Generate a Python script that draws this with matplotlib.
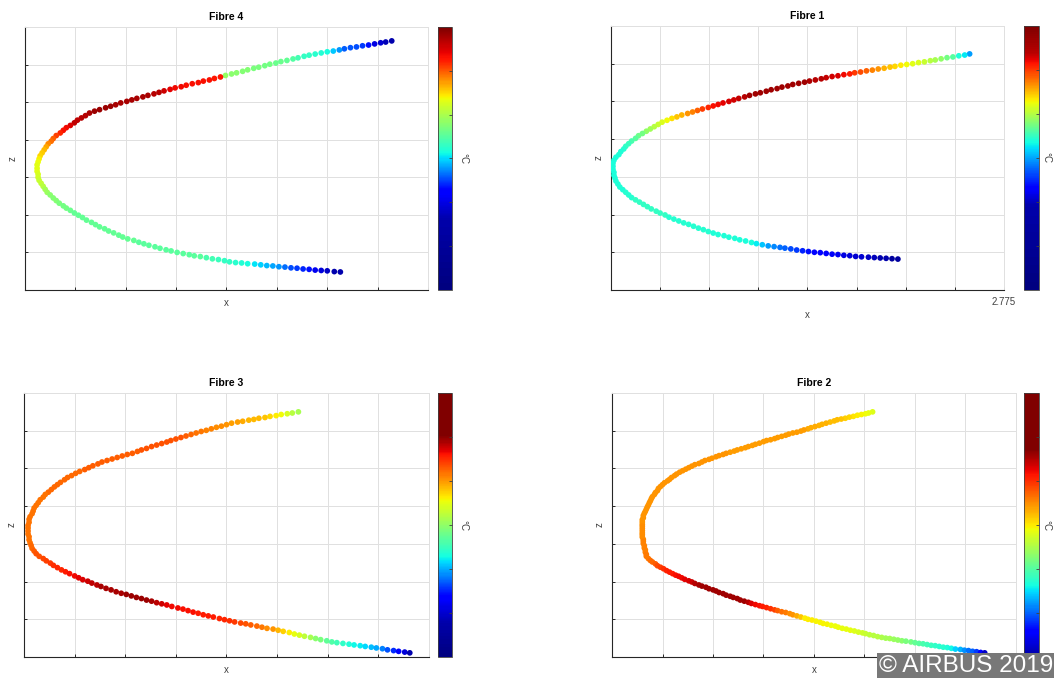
import numpy as np
import matplotlib
matplotlib.use("Agg")
import matplotlib.pyplot as plt
from matplotlib.colors import ListedColormap

plt.rcParams['font.family'] = ['Liberation Sans', 'DejaVu Sans']

# sensor positions along each fibre (x, z in mm) and relative temperature (0-100 of colour scale)
# order: upper end -> leading edge -> lower end
fibre4_x = [2739, 2733, 2728, 2722, 2716, 2710, 2704, 2698, 2692, 2687, 2681, 2675, 2669, 2663, 2657, 2652, 2646, 2641, 2635, 2629, 2624, 2618, 2613, 2607, 2602, 2596, 2591,
            2585, 2580, 2574, 2569, 2563, 2558, 2552, 2547, 2541, 2535, 2530, 2524, 2519, 2513, 2508, 2503, 2497, 2492, 2486, 2481, 2476, 2470, 2465, 2460, 2455, 2449, 2444,
            2439, 2435, 2431, 2427, 2424, 2420, 2416, 2413, 2410, 2406, 2403, 2401, 2398, 2396, 2394, 2392, 2390, 2389, 2388, 2387, 2387, 2387, 2388, 2388, 2389, 2391, 2393,
            2395, 2397, 2400, 2403, 2406, 2409, 2413, 2416, 2420, 2424, 2428, 2432, 2436, 2441, 2445, 2449, 2454, 2458, 2463, 2468, 2472, 2477, 2483, 2488, 2493, 2498, 2504,
            2509, 2515, 2520, 2526, 2532, 2538, 2543, 2549, 2555, 2561, 2567, 2573, 2578, 2584, 2590, 2596, 2603, 2609, 2615, 2621, 2627, 2633, 2639, 2645, 2651, 2657, 2663,
            2669, 2675, 2682, 2688]
fibre4_z = [363, 360, 358, 355, 352, 350, 347, 345, 342, 339, 336, 334, 331, 328, 325, 322, 318, 315, 311, 308, 304, 301, 297, 293, 290, 286, 282,
            278, 275, 271, 267, 263, 259, 256, 252, 249, 245, 241, 238, 234, 230, 226, 222, 218, 214, 210, 206, 202, 198, 193, 189, 185, 180, 176,
            171, 164, 158, 152, 145, 138, 132, 125, 118, 111, 103, 96, 89, 81, 73, 65, 57, 49, 41, 33, 24, 16, 8, 0, -8, -16, -24,
            -32, -40, -47, -55, -62, -69, -76, -82, -88, -95, -101, -107, -114, -120, -126, -132, -137, -143, -148, -154, -159, -164, -168, -173, -177, -181, -185,
            -189, -193, -196, -200, -203, -206, -209, -211, -214, -217, -219, -222, -225, -227, -228, -230, -231, -233, -235, -236, -238, -239, -241, -242, -244, -245, -247,
            -248, -249, -251, -252]
fibre4_t = [4, 5, 7, 9, 14, 18, 20, 21, 22, 27, 32, 38, 39, 40, 41, 41, 43, 45, 47, 48, 48, 49, 49, 50, 50, 51, 51,
            52, 52, 53, 88, 88, 89, 89, 89, 89, 89, 90, 90, 91, 93, 95, 95, 96, 96, 96, 96, 96, 96, 96, 97, 97, 97, 97,
            96, 95, 95, 94, 94, 92, 90, 89, 87, 84, 81, 79, 76, 73, 71, 69, 68, 65, 63, 62, 62, 62, 61, 60, 59, 58, 57,
            55, 54, 52, 51, 51, 50, 49, 49, 48, 47, 47, 47, 47, 47, 47, 47, 47, 47, 47, 47, 47, 47, 47, 46, 46, 46, 46,
            46, 46, 46, 46, 46, 46, 46, 46, 44, 43, 42, 41, 41, 40, 39, 38, 35, 33, 31, 29, 27, 23, 20, 18, 16, 14, 10,
            8, 6, 4, 4]

fibre1_x = [2740, 2735, 2729, 2723, 2717, 2711, 2705, 2700, 2694, 2688, 2682, 2676, 2670, 2664, 2659, 2653, 2647, 2641, 2635, 2629, 2623, 2618, 2612, 2606, 2600, 2594, 2589,
            2583, 2577, 2572, 2566, 2560, 2555, 2549, 2544, 2538, 2533, 2527, 2522, 2516, 2511, 2505, 2500, 2495, 2489, 2484, 2479, 2474, 2468, 2463, 2458, 2453, 2447, 2442,
            2437, 2432, 2427, 2423, 2419, 2415, 2411, 2407, 2403, 2400, 2396, 2393, 2390, 2388, 2385, 2383, 2380, 2378, 2377, 2377, 2377, 2378, 2378, 2379, 2380, 2382, 2384,
            2387, 2390, 2393, 2396, 2400, 2404, 2408, 2412, 2416, 2421, 2425, 2430, 2434, 2439, 2444, 2449, 2454, 2459, 2464, 2469, 2474, 2479, 2484, 2490, 2495, 2501, 2506,
            2512, 2518, 2523, 2529, 2535, 2541, 2547, 2552, 2558, 2564, 2570, 2576, 2582, 2588, 2594, 2600, 2606, 2612, 2618, 2624, 2630, 2637, 2643, 2649, 2655, 2661, 2667]
fibre1_z = [326, 323, 321, 318, 316, 313, 310, 308, 305, 303, 300, 298, 296, 293, 291, 288, 286, 283, 281, 278, 276, 273, 271, 268, 266, 263, 260,
            257, 254, 251, 248, 245, 241, 238, 234, 231, 227, 223, 220, 216, 212, 208, 204, 200, 196, 192, 188, 184, 180, 176, 172, 168, 164, 159,
            155, 150, 145, 139, 133, 127, 121, 115, 109, 102, 95, 88, 81, 74, 67, 59, 52, 44, 36, 28, 20, 12, 4, -3, -11, -19, -27,
            -34, -41, -48, -55, -61, -67, -73, -79, -85, -91, -96, -101, -107, -112, -117, -122, -126, -131, -136, -140, -145, -149, -153, -156, -160, -163, -167,
            -170, -174, -177, -180, -183, -185, -187, -189, -191, -194, -196, -198, -200, -201, -203, -205, -206, -208, -209, -211, -212, -213, -214, -215, -216, -217, -218]
fibre1_t = [28, 35, 39, 45, 49, 52, 55, 57, 59, 61, 62, 64, 66, 68, 70, 72, 75, 77, 80, 83, 85, 88, 90, 92, 93, 94, 95,
            95, 96, 97, 97, 97, 97, 97, 97, 97, 97, 97, 97, 97, 95, 94, 93, 92, 91, 90, 89, 87, 84, 80, 77, 75, 72, 70,
            67, 64, 61, 59, 57, 54, 52, 49, 48, 46, 44, 42, 41, 40, 39, 39, 38, 38, 38, 38, 38, 38, 38, 38, 39, 39, 39,
            39, 40, 40, 40, 41, 41, 41, 41, 41, 41, 41, 41, 40, 40, 40, 40, 40, 40, 40, 40, 40, 39, 39, 39, 39, 39, 38,
            38, 38, 36, 32, 28, 26, 24, 22, 20, 18, 16, 14, 13, 12, 12, 11, 10, 9, 8, 7, 7, 6, 5, 4, 4, 3, 3]

fibre3_x = [2646, 2640, 2635, 2629, 2624, 2618, 2613, 2607, 2602, 2597, 2591, 2586, 2580, 2575, 2570, 2565, 2560, 2555, 2550, 2545, 2540, 2535, 2530, 2525, 2520,
            2516, 2511, 2506, 2501, 2496, 2491, 2487, 2482, 2477, 2472, 2467, 2462, 2457, 2452, 2448, 2443, 2439, 2435, 2430, 2426, 2422, 2418, 2415, 2411, 2408,
            2405, 2402, 2399, 2396, 2394, 2391, 2389, 2387, 2385, 2384, 2383, 2381, 2380, 2380, 2379, 2379, 2379, 2379, 2380, 2380, 2381, 2382, 2383, 2385, 2387,
            2390, 2394, 2397, 2401, 2404, 2408, 2412, 2416, 2420, 2425, 2429, 2433, 2438, 2442, 2447, 2451, 2456, 2461, 2466, 2471, 2476, 2481, 2486, 2491, 2496,
            2501, 2506, 2511, 2516, 2521, 2527, 2532, 2537, 2542, 2547, 2552, 2557, 2562, 2568, 2573, 2578, 2583, 2589, 2594, 2599, 2605, 2610, 2615, 2621, 2626,
            2631, 2637, 2642, 2647, 2652, 2658, 2663, 2668, 2674, 2679, 2684, 2690, 2696, 2701, 2707, 2712, 2718, 2723, 2729, 2734, 2740, 2745, 2751, 2756]
fibre3_z = [350, 347, 345, 343, 340, 338, 335, 333, 330, 328, 325, 323, 320, 316, 312, 309, 305, 301, 298, 294, 290, 286, 282, 278, 274,
            270, 266, 262, 258, 253, 249, 245, 240, 237, 233, 229, 225, 221, 217, 212, 207, 202, 197, 192, 187, 181, 176, 170, 163, 157,
            151, 144, 137, 131, 124, 117, 109, 102, 95, 87, 80, 72, 65, 57, 49, 42, 34, 26, 19, 11, 3, -4, -12, -19, -26,
            -33, -39, -45, -51, -57, -63, -69, -74, -79, -85, -90, -95, -99, -104, -109, -113, -118, -122, -127, -131, -134, -138, -142, -145, -149,
            -152, -156, -159, -162, -166, -170, -173, -177, -181, -184, -188, -191, -194, -198, -201, -204, -207, -210, -212, -215, -218, -221, -224, -226, -229,
            -232, -235, -239, -242, -245, -248, -251, -254, -257, -260, -262, -264, -266, -268, -270, -272, -274, -276, -278, -281, -283, -285, -287, -289]
fibre3_t = [55, 57, 61, 64, 66, 68, 70, 71, 71, 72, 73, 74, 74, 75, 76, 76, 77, 77, 78, 79, 80, 81, 82, 82, 82,
            82, 82, 82, 82, 82, 82, 81, 81, 81, 81, 81, 81, 81, 81, 81, 81, 81, 81, 80, 80, 80, 80, 80, 80, 80,
            80, 80, 80, 79, 79, 79, 79, 79, 79, 79, 79, 79, 79, 79, 79, 79, 79, 79, 79, 79, 79, 80, 80, 81, 82,
            82, 83, 84, 85, 86, 87, 87, 88, 89, 90, 91, 92, 93, 94, 95, 96, 96, 96, 96, 96, 97, 97, 97, 97, 97,
            96, 95, 93, 91, 90, 90, 89, 89, 89, 88, 88, 88, 88, 87, 87, 86, 85, 83, 82, 81, 80, 78, 76, 75, 72,
            69, 66, 63, 61, 58, 55, 52, 50, 47, 45, 43, 41, 39, 37, 36, 34, 31, 29, 25, 21, 17, 13, 8, 4]

fibre2_x = [2633, 2629, 2626, 2622, 2618, 2614, 2610, 2606, 2602, 2598, 2595, 2591, 2587, 2583, 2580, 2576, 2572, 2569, 2565, 2562, 2558, 2554, 2550, 2547, 2543,
            2539, 2536, 2532, 2528, 2525, 2521, 2517, 2514, 2510, 2507, 2503, 2499, 2496, 2492, 2488, 2485, 2481, 2478, 2474, 2471, 2467, 2464, 2461, 2457, 2454,
            2451, 2448, 2445, 2442, 2439, 2437, 2434, 2432, 2430, 2427, 2425, 2423, 2421, 2420, 2418, 2417, 2415, 2414, 2413, 2412, 2411, 2410, 2409, 2408, 2407,
            2406, 2406, 2405, 2405, 2405, 2405, 2405, 2405, 2405, 2405, 2405, 2406, 2406, 2406, 2407, 2407, 2408, 2408, 2409, 2409, 2411, 2413, 2415, 2418, 2420,
            2423, 2426, 2429, 2432, 2435, 2438, 2441, 2444, 2447, 2451, 2454, 2457, 2461, 2464, 2468, 2471, 2475, 2478, 2481, 2485, 2488, 2492, 2495, 2499, 2502,
            2506, 2510, 2513, 2517, 2521, 2524, 2528, 2532, 2536, 2539, 2543, 2547, 2551, 2554, 2558, 2562, 2566, 2569, 2573, 2577, 2581, 2584, 2588, 2592, 2596,
            2599, 2603, 2607, 2611, 2615, 2619, 2623, 2626, 2630, 2634, 2638, 2642, 2646, 2650, 2654, 2658, 2662, 2666, 2671, 2675, 2679, 2683, 2687, 2691, 2695,
            2699, 2703, 2707, 2711, 2715, 2720, 2724, 2728, 2732, 2736, 2740, 2744]
fibre2_z = [350, 347, 345, 343, 341, 338, 336, 333, 331, 329, 326, 323, 320, 317, 314, 311, 308, 305, 302, 299, 296, 294, 291, 288, 285,
            282, 279, 276, 274, 271, 267, 264, 261, 258, 255, 252, 249, 246, 243, 240, 237, 234, 231, 227, 224, 221, 217, 213, 210, 206,
            202, 198, 194, 190, 185, 181, 176, 171, 167, 162, 157, 152, 147, 141, 136, 131, 125, 120, 114, 109, 103, 98, 92, 86, 81,
            75, 69, 64, 58, 52, 47, 41, 35, 29, 24, 18, 12, 7, 1, -5, -11, -16, -22, -28, -33, -39, -44, -48, -53, -58,
            -62, -66, -71, -75, -79, -83, -86, -90, -94, -98, -101, -105, -109, -112, -115, -119, -122, -125, -129, -132, -136, -139, -142, -145, -149,
            -152, -155, -158, -161, -164, -166, -169, -172, -175, -177, -180, -182, -185, -188, -191, -194, -197, -200, -202, -205, -208, -211, -213, -216, -218,
            -221, -224, -226, -229, -231, -234, -236, -238, -241, -243, -246, -248, -250, -251, -253, -255, -257, -258, -260, -262, -264, -265, -267, -269, -270,
            -272, -274, -275, -277, -279, -280, -282, -283, -285, -286, -288, -289]
fibre2_t = [62, 63, 64, 65, 66, 67, 68, 69, 70, 71, 71, 71, 72, 72, 72, 73, 73, 73, 74, 74, 74, 74, 74, 74, 74,
            74, 74, 74, 74, 74, 74, 74, 74, 74, 74, 74, 74, 74, 74, 75, 75, 75, 75, 75, 75, 75, 75, 75, 75, 75,
            75, 75, 75, 75, 75, 75, 75, 75, 75, 75, 75, 75, 75, 75, 75, 75, 75, 75, 75, 75, 75, 75, 75, 75, 75,
            75, 75, 75, 75, 75, 76, 76, 76, 76, 76, 76, 76, 77, 77, 77, 77, 77, 77, 78, 78, 78, 79, 80, 81, 83,
            84, 86, 87, 88, 88, 89, 90, 90, 91, 92, 93, 95, 96, 97, 97, 97, 97, 97, 97, 97, 97, 97, 97, 97, 97,
            97, 95, 92, 90, 89, 88, 87, 86, 84, 81, 79, 78, 76, 75, 73, 70, 66, 66, 66, 65, 65, 65, 65, 64, 64,
            64, 63, 63, 63, 62, 61, 60, 59, 58, 57, 57, 56, 55, 55, 54, 53, 52, 50, 49, 47, 46, 44, 43, 42, 41,
            40, 40, 39, 37, 33, 30, 27, 24, 22, 18, 12, 6]

W, H = 1054, 678
fig = plt.figure(figsize=(W / 100, H / 100), dpi=100)


def px_ax(x0, y0, x1, y1):
    return fig.add_axes([x0 / W, 1 - y1 / H, (x1 - x0) / W, (y1 - y0) / H])


# each colour bar is a jet map stretched differently (bar position -> jet position)
panels = [
    dict(title="Fibre 4", x=fibre4_x, z=fibre4_z, t=fibre4_t,
         box=(25, 27, 428, 290), cbar=(438, 27, 452, 290),
         pa=[0, 0.27, 0.38, 0.52, 0.72, 0.87, 1.0], va=[0, 0.04, 0.125, 0.375, 0.625, 0.875, 1.0]),
    dict(title="Fibre 1", x=fibre1_x, z=fibre1_z, t=fibre1_t,
         box=(611, 26, 1004, 290), cbar=(1024, 26, 1039, 290),
         pa=[0, 0.32, 0.39, 0.56, 0.70, 0.85, 0.9, 1.0], va=[0, 0.04, 0.125, 0.375, 0.625, 0.875, 0.95, 1.0]),
    dict(title="Fibre 3", x=fibre3_x, z=fibre3_z, t=fibre3_t,
         box=(24, 393, 429, 657), cbar=(438, 393, 452, 657),
         pa=[0, 0.13, 0.23, 0.38, 0.58, 0.76, 0.84, 1.0], va=[0, 0.04, 0.125, 0.375, 0.625, 0.875, 0.999, 1.0]),
    dict(title="Fibre 2", x=fibre2_x, z=fibre2_z, t=fibre2_t,
         box=(612, 393, 1016, 657), cbar=(1024, 393, 1039, 657),
         pa=[0, 0.10, 0.27, 0.47, 0.68, 0.79, 1.0], va=[0.03, 0.125, 0.375, 0.625, 0.875, 0.999, 1.0]),
]

jet = plt.get_cmap('jet')

for P in panels:
    x0, y0, x1, y1 = P['box']
    ax = px_ax(x0, y0, x1, y1)

    pa = np.array(P['pa'])
    va = np.array(P['va'])
    cmap = ListedColormap(jet(np.interp(np.linspace(0, 1, 256), pa, va)))
    pos = np.interp(np.array(P['t']) / 100.0, va, pa)

    sc = ax.scatter(np.array(P['x']) / 1000.0, np.array(P['z']) / 1000.0, c=pos,
                    cmap=cmap, vmin=0, vmax=1, s=17, linewidths=0, zorder=3)

    ax.set_xlim(2.375, 2.775)
    ax.set_ylim(-0.3, 0.4)
    ax.set_xticks(np.arange(2.375, 2.776, 0.05))
    ax.set_yticks(np.arange(-0.3, 0.401, 0.1))
    ax.set_yticklabels([])
    if P['title'] == "Fibre 1":
        ax.set_xticklabels([''] * 8 + ['2.775'])
    else:
        ax.set_xticklabels([])
    ax.grid(True, color='#e0e0e0', lw=0.7)
    ax.set_axisbelow(True)
    ax.tick_params(direction='in', length=2.5, width=0.7, color='#262626',
                   labelsize=7, labelcolor='#404040', pad=5)
    for side in ['left', 'bottom']:
        ax.spines[side].set_color('#262626')
        ax.spines[side].set_linewidth(0.8)
    for side in ['top', 'right']:
        ax.spines[side].set_color('#e0e0e0')
        ax.spines[side].set_linewidth(0.7)
    ax.set_title(P['title'], fontsize=7.5, fontweight='bold', pad=5)
    ax.set_xlabel('x', fontsize=7, color='#404040', va='center')
    ax.set_ylabel('z', fontsize=7, color='#404040', va='center')
    ylab = (303 if P['title'] != "Fibre 1" else 315) if y0 < 300 else 670
    ax.xaxis.set_label_coords(0.5, (y1 - ylab) / (y1 - y0))
    ax.yaxis.set_label_coords(-12 / (x1 - x0), 0.5)

    cx0, cy0, cx1, cy1 = P['cbar']
    cax = px_ax(cx0, cy0, cx1, cy1)
    cb = fig.colorbar(sc, cax=cax)
    cb.set_ticks(np.linspace(0, 1, 7)[1:-1])
    cb.ax.tick_params(labelright=False, direction='in', length=2, width=0.6, color='#404040')
    cb.outline.set_linewidth(0.6)
    cb.outline.set_edgecolor('#404040')
    fig.text((cx1 + (11 if cx0 < 500 else 7)) / W, 1 - (cy0 + cy1) / 2 / H, '°C', rotation=270,
             fontsize=7, color='#404040', ha='center', va='center')

fig.text(1053 / W, 1 / H, '© AIRBUS 2019', fontsize=17.5, color='white',
         ha='right', va='bottom',
         bbox=dict(facecolor='#787878', edgecolor='none', pad=1.5))

fig.savefig('out.png', dpi=100)
